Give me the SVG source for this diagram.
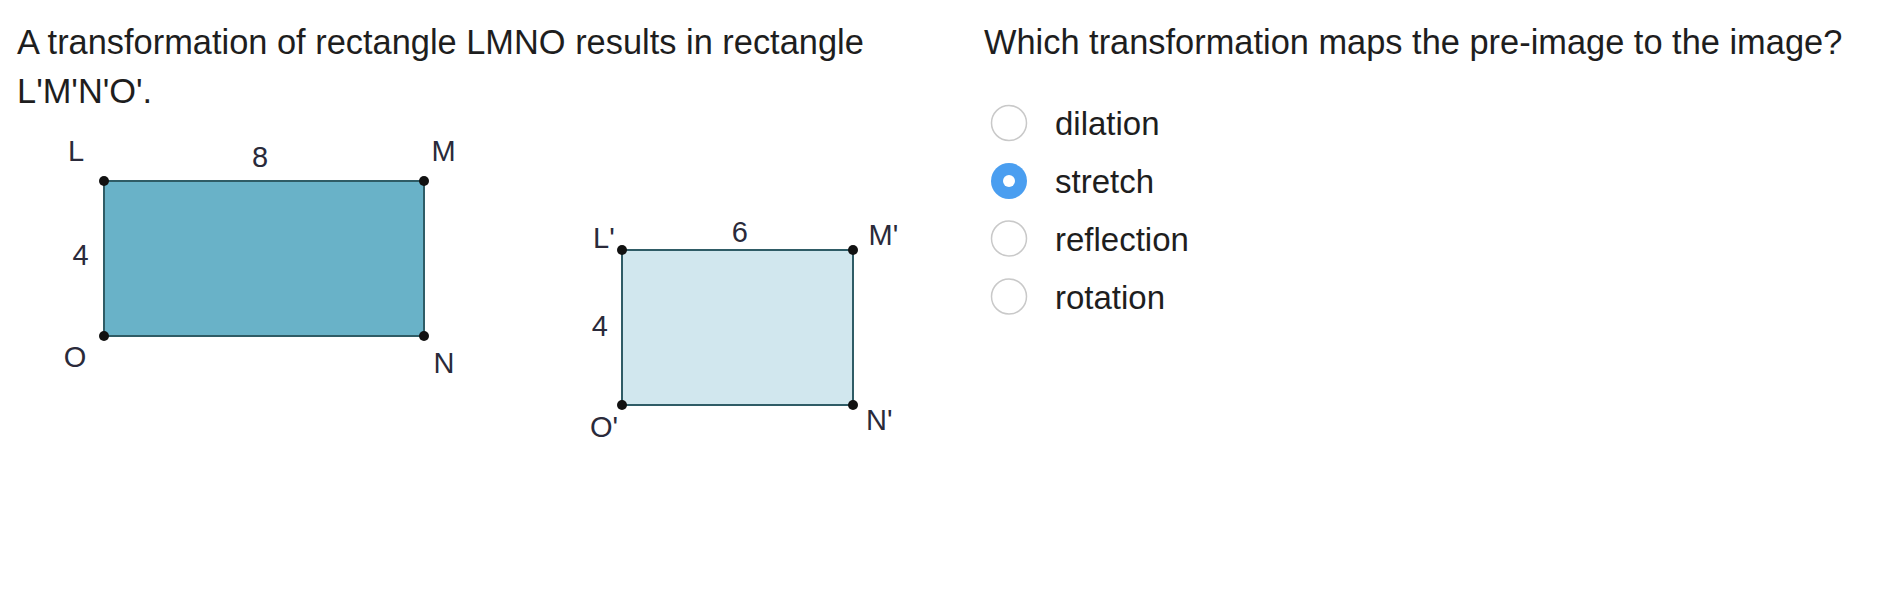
<svg xmlns="http://www.w3.org/2000/svg" width="1896" height="610" viewBox="0 0 1896 610">
  <style>
    .q { font-family: "Liberation Sans", Arial, sans-serif; font-size: 34.4px; fill: #1e1e1e; }
    .opt { font-family: "Liberation Sans", Arial, sans-serif; font-size: 33px; fill: #1e1e1e; }
    .lbl { font-family: "Liberation Sans", Arial, sans-serif; font-size: 29px; fill: #2a2a3a; }
    .mid { text-anchor: middle; }
    .edge { stroke: #2f5c66; stroke-width: 2; }
    .pt { fill: #111; }
    .radio { fill: #fff; stroke: #c9c9c9; stroke-width: 1.5; }
  </style>
  <defs>
    <linearGradient id="rg" x1="0" y1="0" x2="0" y2="1">
      <stop offset="0" stop-color="#ffffff"/>
      <stop offset="1" stop-color="#f2f2f2"/>
    </linearGradient>
  </defs>
  <rect width="1896" height="610" fill="#fff"/>

  <g id="question-left">
    <text class="q" x="17" y="54">A transformation of rectangle LMNO results in rectangle</text>
    <text class="q" x="17" y="103">L'M'N'O'.</text>
  </g>

  <g id="rect-LMNO">
    <rect x="104" y="181" width="320" height="155" fill="#69b2c8" class="edge"/>
    <circle class="pt" cx="104" cy="181" r="5"/>
    <circle class="pt" cx="424" cy="181" r="5"/>
    <circle class="pt" cx="424" cy="336" r="5"/>
    <circle class="pt" cx="104" cy="336" r="5"/>
    <text class="lbl" x="68" y="161">L</text>
    <text class="lbl mid" x="260" y="167">8</text>
    <text class="lbl mid" x="443.5" y="161">M</text>
    <text class="lbl mid" x="80.5" y="265">4</text>
    <text class="lbl mid" x="75" y="367">O</text>
    <text class="lbl mid" x="444" y="373">N</text>
  </g>

  <g id="rect-LMNO-prime">
    <rect x="622" y="250" width="231" height="155" fill="#d1e7ee" class="edge"/>
    <circle class="pt" cx="622" cy="250" r="5"/>
    <circle class="pt" cx="853" cy="250" r="5"/>
    <circle class="pt" cx="853" cy="405" r="5"/>
    <circle class="pt" cx="622" cy="405" r="5"/>
    <text class="lbl" x="593" y="248">L'</text>
    <text class="lbl mid" x="739.7" y="241.7">6</text>
    <text class="lbl" x="868.5" y="245">M'</text>
    <text class="lbl mid" x="599.7" y="336">4</text>
    <text class="lbl" x="590" y="436.7">O'</text>
    <text class="lbl" x="866" y="430">N'</text>
  </g>

  <g id="question-right">
    <text class="q" x="984" y="54">Which transformation maps the pre-image to the image?</text>
  </g>

  <g id="option-dilation">
    <circle class="radio" cx="1009" cy="123" r="17.5" fill="url(#rg)"/>
    <text class="opt" x="1055" y="135">dilation</text>
  </g>
  <g id="option-stretch">
    <circle cx="1009" cy="181" r="18" fill="#4a9ef0"/>
    <circle cx="1009" cy="181" r="6" fill="#fff"/>
    <text class="opt" x="1055" y="193">stretch</text>
  </g>
  <g id="option-reflection">
    <circle class="radio" cx="1009" cy="238.5" r="17.5" fill="url(#rg)"/>
    <text class="opt" x="1055" y="250.5">reflection</text>
  </g>
  <g id="option-rotation">
    <circle class="radio" cx="1009" cy="296.5" r="17.5" fill="url(#rg)"/>
    <text class="opt" x="1055" y="308.5">rotation</text>
  </g>
</svg>
